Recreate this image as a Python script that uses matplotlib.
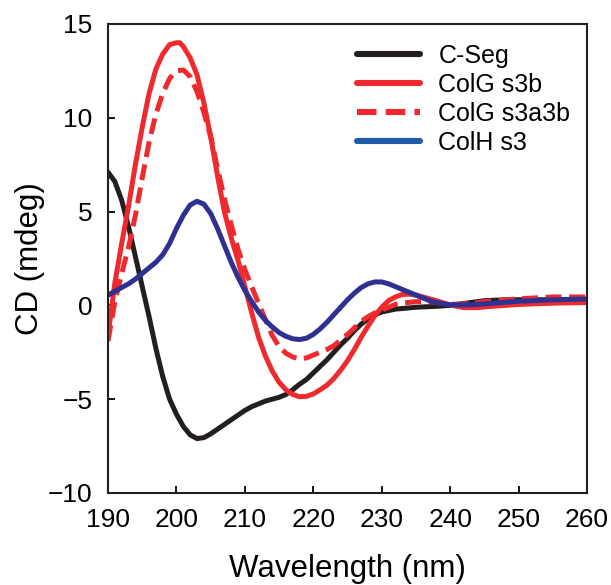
import numpy as np
import matplotlib
matplotlib.use('Agg')
import matplotlib.pyplot as plt

plt.rcParams['font.family'] = ['Liberation Sans', 'DejaVu Sans']

# wavelength grids (nm) and CD values (mdeg)
wl_cseg = [190, 191, 192, 193, 194, 195, 196, 197, 198, 199, 200, 201, 202, 203, 204, 205,
           206, 207, 208, 209, 210, 211, 212, 213, 214, 215, 216, 217, 218, 219, 220, 221,
           222, 223, 224, 225, 226, 227, 228, 229, 230, 232, 235, 238, 240, 243, 245, 248,
           250, 255, 260]
cd_cseg = [7.1, 6.6, 5.6, 4.2, 2.6, 1.0, -0.6, -2.3, -3.8, -5.0, -5.8, -6.45, -6.9, -7.1, -7.05, -6.85,
           -6.6, -6.35, -6.1, -5.85, -5.6, -5.4, -5.25, -5.1, -5.0, -4.9, -4.75, -4.5, -4.2, -3.95, -3.6, -3.25,
           -2.9, -2.5, -2.1, -1.75, -1.35, -1.0, -0.72, -0.5, -0.35, -0.2, -0.1, -0.05, 0.0, 0.15, 0.25, 0.3,
           0.3, 0.3, 0.3]

wl_s3b = [190, 191, 192, 193, 194, 195, 196, 197, 198, 199, 200, 200.5, 201, 202, 203, 204,
          205, 206, 207, 208, 209, 210, 211, 212, 213, 214, 215, 216, 217, 218, 219, 220,
          221, 222, 223, 224, 225, 226, 227, 228, 229, 230, 231, 232, 233, 234, 235, 236,
          237, 238, 240, 242, 244, 246, 250, 255, 260]
cd_s3b = [-1.6, 1.2, 3.3, 5.3, 7.5, 9.5, 11.3, 12.6, 13.4, 13.9, 14.0, 14.0, 13.8, 13.2, 12.3, 10.8,
          9.0, 6.9, 5.0, 3.6, 2.4, 1.0, -0.4, -1.7, -2.7, -3.5, -4.1, -4.5, -4.75, -4.87, -4.85, -4.72,
          -4.5, -4.25, -3.9, -3.45, -2.95, -2.35, -1.7, -1.1, -0.55, -0.1, 0.25, 0.45, 0.58, 0.6, 0.55, 0.45,
          0.35, 0.25, 0.02, -0.12, -0.12, -0.05, 0.05, 0.12, 0.15]

wl_s3a3b = [190, 191, 192, 193, 194, 195, 196, 197, 198, 199, 200, 201, 202, 203, 204, 205,
            206, 207, 208, 209, 210, 211, 212, 213, 214, 215, 216, 217, 218, 219, 220, 221,
            222, 223, 224, 225, 226, 227, 228, 229, 230, 231, 232, 233, 235, 237, 240, 243,
            245, 250, 255, 260]
cd_s3a3b = [-1.9, 0.2, 1.7, 3.1, 4.8, 6.8, 8.7, 10.2, 11.3, 12.1, 12.5, 12.55, 12.2, 11.4, 10.3, 9.0,
            7.3, 5.7, 4.3, 3.0, 1.9, 1.0, 0.1, -0.75, -1.6, -2.2, -2.55, -2.75, -2.85, -2.8, -2.65, -2.5,
            -2.35, -2.15, -1.85, -1.55, -1.2, -0.85, -0.6, -0.4, -0.25, -0.1, 0.05, 0.12, 0.2, 0.2, 0.05, 0.1,
            0.2, 0.35, 0.45, 0.45]

wl_colh = [190, 191, 192, 193, 194, 195, 196, 197, 198, 199, 200, 201, 202, 203, 204, 205,
           206, 207, 208, 209, 210, 211, 212, 213, 214, 215, 216, 217, 218, 219, 220, 221,
           222, 223, 224, 225, 226, 227, 228, 229, 230, 231, 232, 233, 234, 235, 236, 237,
           238, 240, 243, 245, 250, 255, 260]
cd_colh = [0.55, 0.75, 0.95, 1.15, 1.4, 1.7, 2.0, 2.3, 2.7, 3.3, 4.1, 4.8, 5.35, 5.55, 5.4, 4.9,
           4.1, 3.2, 2.3, 1.5, 0.8, 0.2, -0.35, -0.8, -1.15, -1.45, -1.65, -1.78, -1.82, -1.75, -1.55, -1.25,
           -0.9, -0.5, -0.1, 0.3, 0.65, 0.95, 1.15, 1.25, 1.25, 1.15, 1.0, 0.85, 0.7, 0.55, 0.4, 0.25,
           0.15, 0.03, 0.03, 0.08, 0.22, 0.3, 0.34]

labels = ['C-Seg', 'ColG s3b', 'ColG s3a3b', 'ColH s3']
x_ticks = [190, 200, 210, 220, 230, 240, 250, 260]
y_ticks = [-10, -5, 0, 5, 10, 15]

black = '#231f20'
red = '#ee2a2f'
navy = '#2e3192'

fig = plt.figure(figsize=(6.11, 5.85), dpi=100)
ax = fig.add_axes([0.1768, 0.1573, 0.7839, 0.8017])

lw = 3.6
ax.plot(wl_cseg, cd_cseg, color=black, lw=lw, label=labels[0], solid_capstyle='round', solid_joinstyle='round')
ax.plot(wl_s3b, cd_s3b, color=red, lw=lw, label=labels[1], solid_capstyle='round', solid_joinstyle='round')
ax.plot(wl_s3a3b, cd_s3a3b, color=red, lw=lw, ls=(0, (3.2, 1.5)), label=labels[2])
ax.plot(wl_colh, cd_colh, color=navy, lw=lw, label=labels[3], solid_capstyle='round', solid_joinstyle='round')

ax.set_xlim(190, 260)
ax.set_ylim(-10, 15)
ax.set_xticks(x_ticks)
ax.set_yticks(y_ticks)
ax.tick_params(direction='in', length=5, width=1.3, labelsize=19, pad=11)
for s in ax.spines.values():
    s.set_linewidth(1.5)
    s.set_color(black)

ax.set_xlabel('Wavelength (nm)', fontsize=22.5, labelpad=16)
ax.set_ylabel('CD (mdeg)', fontsize=22.5, labelpad=2)

leg = ax.legend(loc='upper left', bbox_to_anchor=(0.52, 0.958), frameon=False,
                fontsize=18, handlelength=2.5, handletextpad=0.75, labelspacing=0.2,
                borderaxespad=0, borderpad=0)
for h in leg.legend_handles:
    h.set_linewidth(4.4)
leg.legend_handles[3].set_color('#1f5ba8')

fig.savefig('out.png', dpi=100)
